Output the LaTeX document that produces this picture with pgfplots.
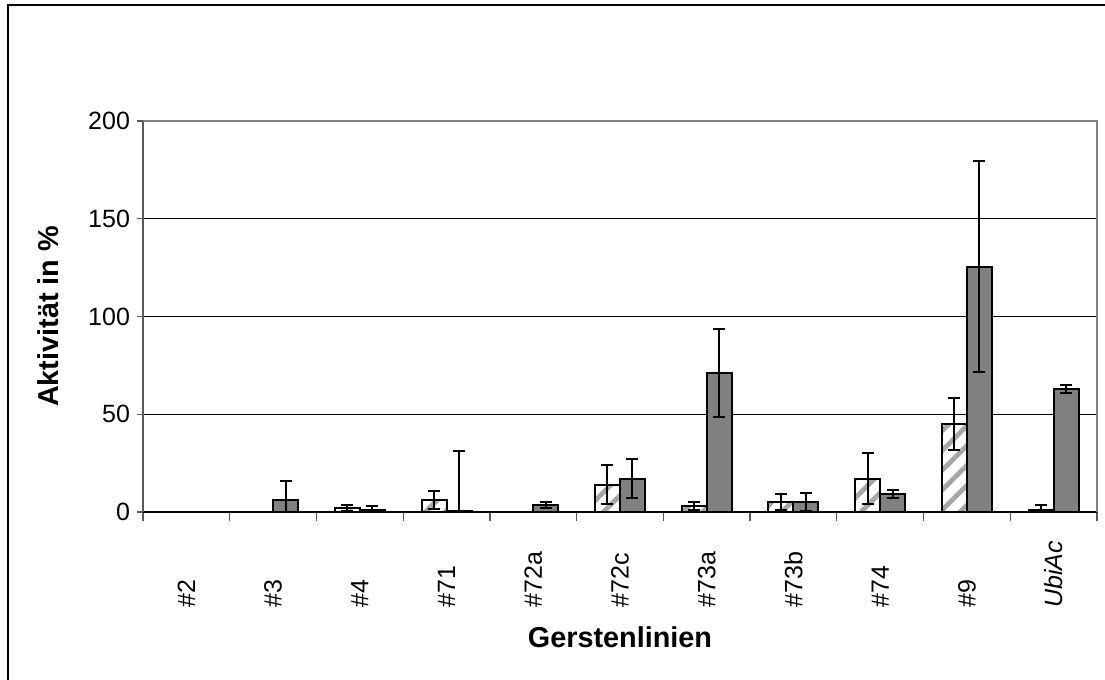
\documentclass[border=0pt]{standalone}
\usepackage{pgfplots}
\usepackage{pgfplotstable}
\pgfplotsset{compat=1.18}
\usepackage{fontspec}
\setmainfont{Liberation Sans}
\usetikzlibrary{patterns.meta}

\pgfplotstableread{
x y e
0 0 0
1 0 0
2 2 1.5
3 6 4.5
5 14 10
6 3 2
7 5 4
8 17 13
9 45 13.5
10 1 2.5
}\hatched

\pgfplotstableread{
x y e
1 6 10
2 1 2
3 0.5 30.5
4 3.5 1.7
5 17 10
6 71 22.5
7 5 4.5
8 9 2
9 125.5 54
10 63 2.2
}\solid

\begin{document}
\begin{tikzpicture}
\useasboundingbox (-71.5pt,-84pt) rectangle (481pt,256pt);
\draw[line width=1pt] (-67.5pt,-84pt) -- (-67.5pt,253.5pt) -- (481pt,253.5pt);
\begin{axis}[
  at={(0pt,0pt)}, anchor=south west,
  scale only axis, width=477pt, height=195.5pt,
  xmin=-0.5, xmax=10.5, ymin=0, ymax=200,
  enlargelimits=false,
  clip mode=individual,
  ybar=0pt, bar width=12.5pt,
  axis x line*=bottom, axis y line*=left,
  axis line style={-},
  x axis line style={black, line width=0.6pt},
  y axis line style={black!65, line width=0.9pt},
  tick align=outside,
  xtick pos=bottom, ytick pos=left,
  xtick={0,...,10},
  xticklabels={\#2,\#3,\#4,\#71,\#72a,\#72c,\#73a,\#73b,\#74,\#9,\textit{UbiAc}},
  major x tick style={draw=none},
  minor xtick={-0.5,0.5,...,10.5},
  minor x tick style={black!65, line width=0.6pt},
  minor tick length=4.5pt,
  major tick length=3pt,
  ytick={0,50,...,200},
  y tick style={black!65, line width=0.6pt},
  ymajorgrids,
  major grid style={black, line width=0.5pt},
  /pgf/number format/assume math mode=true,
  yticklabel style={font=\fontsize{12.5}{14}\selectfont},
  xticklabel style={rotate=90, anchor=west, inner sep=0pt, font=\fontsize{12.5}{14}\selectfont},
  xticklabel shift=45pt,
  xlabel={Gerstenlinien},
  ylabel={Aktivität in \%},
  every axis x label/.style={at={(rel axis cs:0.5,0)}, yshift=-62.5pt, anchor=center, font=\fontsize{14.4}{16}\selectfont\bfseries},
  every axis y label/.style={at={(rel axis cs:0,0.5)}, xshift=-47.5pt, rotate=90, anchor=center, font=\fontsize{14.4}{16}\selectfont\bfseries},
]
\addplot[draw=black, line width=1pt, preaction={fill=white},
  pattern={Lines[angle=45,distance=7pt,line width=2.4pt]}, pattern color=black!35,
  error bars/.cd, y dir=both, y explicit,
  error bar style={black, line width=1pt},
  error mark options={black, line width=1pt, mark size=3pt, rotate=90}]
  table[x=x, y=y, y error=e] {\hatched};
\addplot[draw=black, line width=1pt, fill=black!50,
  error bars/.cd, y dir=both, y explicit,
  error bar style={black, line width=1pt},
  error mark options={black, line width=1pt, mark size=3pt, rotate=90}]
  table[x=x, y=y, y error=e] {\solid};
\draw[black!50, line width=1pt] (rel axis cs:0,1) -- (rel axis cs:1,1) -- (rel axis cs:1,0);
\end{axis}
\end{tikzpicture}
\end{document}
